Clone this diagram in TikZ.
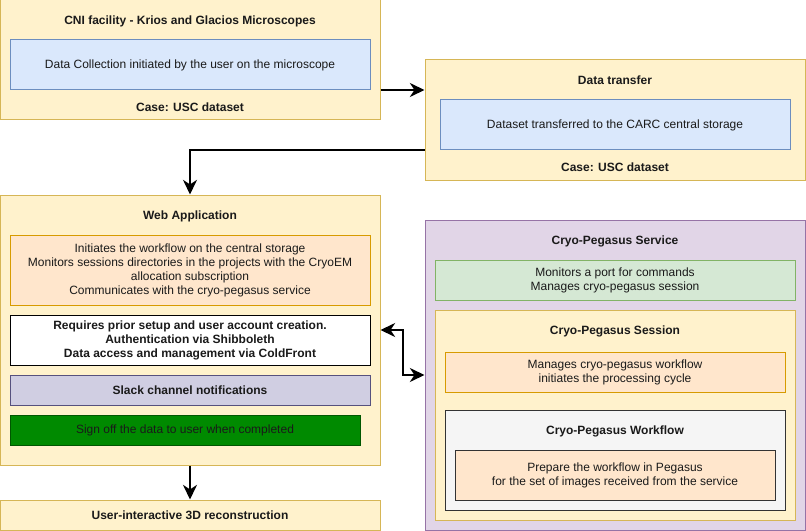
\documentclass[tikz,border=0pt]{standalone}
\usepackage{fontspec}
\setmainfont{Liberation Sans}
\usetikzlibrary{fit,arrows.meta}
\definecolor{yelF}{HTML}{FFF2CC}\definecolor{yelD}{HTML}{D6B656}
\definecolor{bluF}{HTML}{DAE8FC}\definecolor{bluD}{HTML}{6C8EBF}
\definecolor{oraF}{HTML}{FFE6CC}\definecolor{oraD}{HTML}{D79B00}
\definecolor{purF}{HTML}{E1D5E7}\definecolor{purD}{HTML}{9673A6}
\definecolor{grnF}{HTML}{D5E8D4}\definecolor{grnD}{HTML}{82B366}
\definecolor{slkF}{HTML}{D0CEE2}\definecolor{slkD}{HTML}{56517E}
\definecolor{dgF}{HTML}{008A00}\definecolor{dgD}{HTML}{005700}
\definecolor{gryF}{HTML}{F5F5F5}\definecolor{gryD}{HTML}{333333}
\definecolor{txt}{HTML}{1A1A1A}
\begin{document}
\begin{tikzpicture}[x=0.75pt,y=-0.75pt,
  font=\fontsize{9}{10.5}\selectfont, text=txt,
  box/.style={draw, inner sep=0pt, line width=0.75pt},
  yel/.style={box, fill=yelF, draw=yelD},
  blu/.style={box, fill=bluF, draw=bluD},
  ora/.style={box, fill=oraF, draw=oraD},
  pur/.style={box, fill=purF, draw=purD},
  grn/.style={box, fill=grnF, draw=grnD},
  slk/.style={box, fill=slkF, draw=slkD},
  dgr/.style={box, fill=dgF, draw=dgD},
  gry/.style={box, fill=gryF, draw=gryD},
  wht/.style={box, fill=white, draw=black},
  lbl/.style={inner sep=0pt, align=center},
  ttl/.style={lbl, font=\fontsize{9}{10.5}\selectfont\bfseries},
  arr/.style={line width=1.5pt, -{Stealth[length=11pt,width=10.5pt,inset=3.5pt]}},
  darr/.style={line width=1.5pt, {Stealth[length=11pt,width=10.5pt,inset=3.5pt]}-{Stealth[length=11pt,width=10.5pt,inset=3.5pt]}}]
\useasboundingbox[fill=white] (0,0) rectangle (806,531);
% CNI facility
\node[yel, fit={(0,0)(380,120)}] (cni) {};
\node[ttl] (cniT) at (190,21) {CNI facility - Krios and Glacios Microscopes};
\node[blu, fit={(10,40)(370,90)}] (cniA) {};
\node[lbl] (cniAt) at (cniA.center) {Data Collection initiated by the user on the microscope};
\node[ttl] (cniC) at (190,107) {Case: USC dataset};
% Data transfer
\node[yel, fit={(425,60)(805,180)}] (dt) {};
\node[ttl] (dtT) at (615,80) {Data transfer};
\node[blu, fit={(440,100)(790,150)}] (dtA) {};
\node[lbl] (dtAt) at (dtA.center) {Dataset transferred to the CARC central storage};
\node[ttl] (dtC) at (615,167) {Case: USC dataset};
% Web application
\node[yel, fit={(0,195)(380,465)}] (web) {};
\node[ttl] (webT) at (190,216) {Web Application};
\node[ora, fit={(10,235)(370,305)}] (webA) {};
\node[lbl] (webAt) at (webA.center) {Initiates the workflow on the central storage\\Monitors sessions directories in the projects with the CryoEM\\allocation subscription\\Communicates with the cryo-pegasus service};
\node[wht, fit={(10,315)(370,365)}] (webB) {};
\node[ttl] (webBt) at (webB.center) {Requires prior setup and user account creation.\\Authentication via Shibboleth\\Data access and management via ColdFront};
\node[slk, fit={(10,375)(370,405)}] (webC) {};
\node[ttl] (webCt) at (webC.center) {Slack channel notifications};
\node[dgr, fit={(10,415)(360,445)}] (webD) {};
\node[lbl] (webDt) at (webD.center) {Sign off the data to user when completed};
% User interactive
\node[yel, fit={(0,500)(380,530)}] (user) {};
\node[ttl] (usert) at (user.center) {User-interactive 3D reconstruction};
% Cryo-Pegasus service
\node[pur, fit={(425,220)(805,530)}] (svc) {};
\node[ttl] (svcT) at (615,241) {Cryo-Pegasus Service};
\node[grn, fit={(435,260)(795,300)}] (svcA) {};
\node[lbl] (svcAt) at (svcA.center) {Monitors a port for commands\\Manages cryo-pegasus session};
\node[yel, fit={(435,310)(795,520)}] (sess) {};
\node[ttl] (sessT) at (615,331) {Cryo-Pegasus Session};
\node[ora, fit={(445,352)(785,392)}] (sessA) {};
\node[lbl] (sessAt) at (sessA.center) {Manages cryo-pegasus workflow\\initiates the processing cycle};
\node[gry, fit={(445,410)(785,510)}] (wf) {};
\node[ttl] (wfT) at (615,431) {Cryo-Pegasus Workflow};
\node[box, fill=oraF, draw=gryD, fit={(455,450)(775,500)}] (wfA) {};
\node[lbl] (wfAt) at (wfA.center) {Prepare the workflow in Pegasus\\for the set of images received from the service};
% connectors
\coordinate (c1) at (0,90);
\draw[arr] (cni.east |- c1) -- (dt.west |- c1);
\draw[arr] ([yshift=22.5pt]dt.south west) -| (web.north);
\draw[arr] (web.south) -- (user.north);
\draw[darr] (web.east) -- ++(22.5,0) |- (svc.west);
\end{tikzpicture}
\end{document}
